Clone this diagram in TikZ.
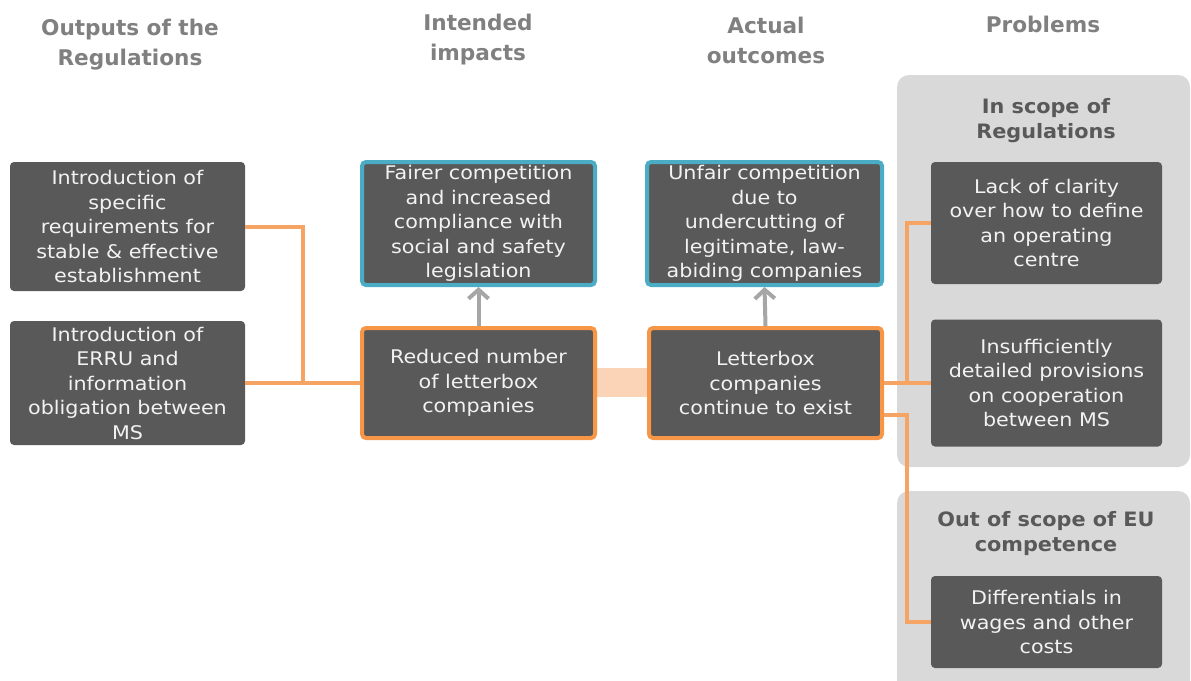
\documentclass[tikz,border=0pt]{standalone}
\usepackage{fontspec}
\setmainfont{DejaVu Sans}
\newfontfamily\boxfnt{DejaVu Sans}[FakeStretch=1.1]
\newfontfamily\phdrfnt{DejaVu Sans}[FakeStretch=1.05]
\usetikzlibrary{arrows.meta}
\definecolor{boxgray}{HTML}{595959}
\definecolor{panelgray}{HTML}{D9D9D9}
\definecolor{hdrgray}{HTML}{808080}
\definecolor{phdrgray}{HTML}{595959}
\definecolor{borange}{HTML}{F79646}
\definecolor{lorange}{HTML}{F6A463}
\definecolor{bandorange}{HTML}{FBD4B8}
\definecolor{bblue}{HTML}{4BACC6}
\definecolor{agray}{HTML}{A6A6A6}
\definecolor{txtw}{HTML}{F2F2F2}
\tikzset{
  dbox/.style={rectangle, rounded corners=4pt, fill=boxgray, text=txtw, align=center,
    font=\boxfnt\fontsize{18.8}{24.5}\selectfont, inner sep=0pt},
  bluebox/.style={dbox, draw=bblue, line width=4pt},
  orbox/.style={dbox, draw=borange, line width=4pt},
  panel/.style={rectangle, rounded corners=12pt, fill=panelgray, inner sep=0pt},
  hdr/.style={text=hdrgray, align=center, font=\bfseries\fontsize{21.6}{30}\selectfont},
  phdr/.style={text=phdrgray, align=center, font=\phdrfnt\bfseries\fontsize{19.8}{25}\selectfont},
  conn/.style={draw=lorange, line width=4pt},
  garrow/.style={draw=agray, line width=4pt, -{Straight Barb[length=9pt,width=20pt]}}
}
\begin{document}
\begin{tikzpicture}[x=1pt,y=-1pt]
\useasboundingbox (0,0) rectangle (1191,680);
\clip (0,0) rectangle (1191,680);
% headers
\node[hdr] (h1) at (130,45) {Outputs of the\\Regulations};
\node[hdr] (h2) at (478,40) {Intended\\impacts};
\node[hdr] (h3) at (766,40) {Actual\\outcomes};
\node[hdr] (h4) at (1043,24) {Problems};
% panels
\node[panel, minimum width=293pt, minimum height=392pt] (p1) at (1043.5,271) {};
\node[panel, minimum width=293pt, minimum height=220pt] (p2) at (1043.5,601) {};
\node[phdr] (ph1) at (1046,121) {In scope of\\Regulations};
\node[phdr] (ph2) at (1046,534) {Out of scope of EU\\competence};
% band
\fill[bandorange] ([yshift=15pt]478.5,383) rectangle ([yshift=-14pt]765.5,383);
% left boxes
\node[dbox, minimum width=235pt, minimum height=129pt] (L1) at (127.5,226.5)
  {Introduction of\\specific\\requirements for\\stable \& effective\\establishment};
\node[dbox, minimum width=235pt, minimum height=124pt] (L2) at (127.5,383)
  {Introduction of\\ERRU and\\information\\obligation between\\MS};
% middle
\node[bluebox, minimum width=233pt, minimum height=123pt] (T1) at (478.5,223.5)
  {Fairer competition\\and increased\\compliance with\\social and safety\\legislation};
\node[bluebox, minimum width=235pt, minimum height=123pt] (T2) at (764.5,223.5)
  {Unfair competition\\due to\\undercutting of\\legitimate, law-\\abiding companies};
\node[orbox, minimum width=233pt, minimum height=110pt] (M1) at (478.5,383)
  {Reduced number\\of letterbox\\companies};
\node[orbox, minimum width=233pt, minimum height=110pt] (M2) at (765.5,383)
  {Letterbox\\companies\\continue to exist};
% right
\node[dbox, minimum width=231pt, minimum height=122pt] (R1) at (1046.5,223)
  {Lack of clarity\\over how to define\\an operating\\centre};
\node[dbox, minimum width=231pt, minimum height=127pt] (R2) at (1046.5,383)
  {Insufficiently\\detailed provisions\\on cooperation\\between MS};
\node[dbox, minimum width=231pt, minimum height=92pt] (R3) at (1046.5,622)
  {Differentials in\\wages and other\\costs};
% connectors
\coordinate (j1) at (303,383);
\coordinate (j2) at (907,383);
\draw[conn] (L1.east) -| (j1);
\draw[conn] (L2.east) -- (M1.west);
\draw[conn] (M2.east) -- (R2.west);
\draw[conn] (R1.west) -| (j2);
\draw[conn] ([yshift=-32pt]M2.east) -| (j2 |- R3.west) -- (R3.west);
\draw[garrow] (M1.north) -- (T1.south);
\draw[garrow] (M2.north) -- (T2.south);
\end{tikzpicture}
\end{document}
